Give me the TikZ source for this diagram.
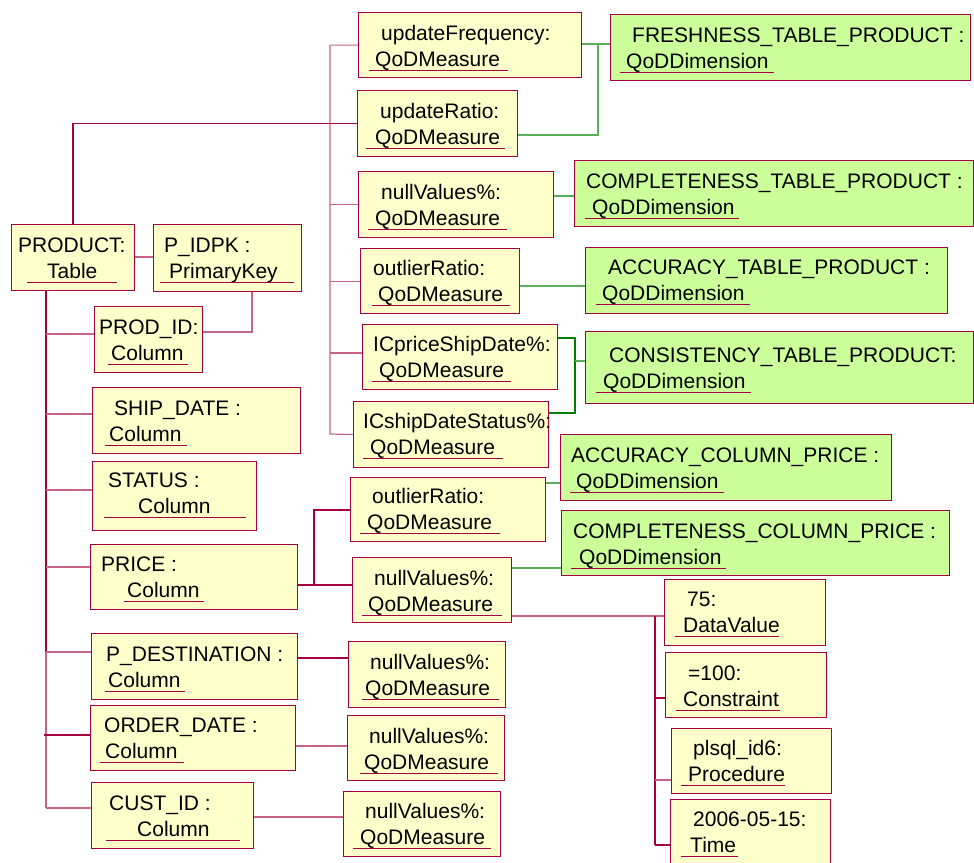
\documentclass[tikz,border=0pt]{standalone}
\usepackage{fontspec}
\setmainfont{Liberation Sans}
\definecolor{yfill}{RGB}{255,255,204}
\definecolor{gfill}{RGB}{204,255,153}
\definecolor{bord}{RGB}{165,0,65}
\definecolor{pinkln}{RGB}{200,100,140}
\definecolor{gline}{RGB}{90,175,90}
\definecolor{dgline}{RGB}{0,128,0}
\tikzset{
 ybox/.style={draw=bord, fill=yfill, line width=1.2pt, inner sep=0pt, anchor=north west},
 gbox/.style={draw=bord, fill=gfill, line width=1.2pt, inner sep=0pt, anchor=north west},
 txt/.style={anchor=base west, inner sep=0pt, font=\fontsize{21}{25}\selectfont},
 uline/.style={draw=bord, line width=1pt},
 dline/.style={draw=bord, line width=1.2pt},
 pline/.style={draw=pinkln, line width=1.2pt},
 gln/.style={draw=gline, line width=1.2pt},
 dgln/.style={draw=dgline, line width=1.2pt},
}
\newcommand\qbox[6]{\node[#2, minimum width={(#5-#3)*1pt}, minimum height={(#6-#4)*1pt}] (#1) at (#3,#4) {};}
\newcommand\qtext[8]{%
 \node[txt] (#1a) at (#3,#2) {#4};
 \node[txt] (#1b) at (#5,#2+26) {#6};
 \draw[uline] (#7,#2+30) -- (#8,#2+30);}
\begin{document}
\begin{tikzpicture}[x=1pt,y=-1pt]
\useasboundingbox (0,0) rectangle (974,862);
\clip (0,0) rectangle (974,862);
\fill[white] (0,0) rectangle (974,862);
% boxes
\qbox{product}{ybox}{11}{224}{134}{290}
\qbox{pidpk}{ybox}{153}{224}{301}{291}
\qbox{prodid}{ybox}{94}{306}{202}{372}
\qbox{shipdate}{ybox}{92}{387}{300}{453}
\qbox{status}{ybox}{92}{461}{256}{530}
\qbox{price}{ybox}{90}{544}{297}{609}
\qbox{pdest}{ybox}{91}{633}{297}{699}
\qbox{orderdate}{ybox}{90}{705}{295}{770}
\qbox{custid}{ybox}{91}{782}{253}{848}
\qbox{nvpdest}{ybox}{348}{641}{505}{707}
\qbox{nvorder}{ybox}{347}{715}{504}{780}
\qbox{nvcust}{ybox}{343}{791}{500}{856}
\qbox{updfreq}{ybox}{358}{12}{581}{77}
\qbox{updratio}{ybox}{357}{90}{517}{156}
\qbox{nvtable}{ybox}{358}{171}{553}{237}
\qbox{outtable}{ybox}{360}{248}{519}{313}
\qbox{icprice}{ybox}{362}{324}{557}{389}
\qbox{icship}{ybox}{353}{401}{548}{467}
\qbox{outprice}{ybox}{350}{477}{545}{541}
\qbox{nvprice}{ybox}{352}{557}{511}{622}
\qbox{dataval}{ybox}{664}{579}{825}{645}
\qbox{constr}{ybox}{665}{652}{826}{717}
\qbox{proc}{ybox}{671}{728}{831}{793}
\qbox{time}{ybox}{670}{799}{830}{868}
\qbox{fresh}{gbox}{610}{14}{970}{80}
\qbox{comptable}{gbox}{574}{160}{973}{226}
\qbox{acctable}{gbox}{585}{247}{947}{313}
\qbox{consist}{gbox}{585}{331}{973}{403}
\qbox{acccol}{gbox}{560}{434}{891}{500}
\qbox{compcol}{gbox}{561}{510}{949}{575}
% texts
\qtext{product}{252}{18}{PRODUCT:}{47}{Table}{27}{117}
\qtext{pidpk}{252}{164}{P\_IDPK :}{169}{PrimaryKey}{160}{294}
\qtext{prodid}{334}{99}{PROD\_ID:}{111}{Column}{108}{188}
\qtext{shipdate}{415}{114}{SHIP\_DATE :}{109}{Column}{105}{187}
\qtext{status}{487}{108}{STATUS :}{138}{Column}{104}{246}
\qtext{price}{571}{101}{PRICE :}{127}{Column}{124}{204}
\qtext{pdest}{661}{106}{P\_DESTINATION :}{108}{Column}{105}{185}
\qtext{orderdate}{732}{104}{ORDER\_DATE :}{105}{Column}{100}{184}
\qtext{custid}{810}{109}{CUST\_ID :}{137}{Column}{106}{240}
\qtext{nvpdest}{669}{370}{nullValues\%:}{365}{QoDMeasure}{362}{499}
\qtext{nvorder}{743}{369}{nullValues\%:}{364}{QoDMeasure}{360}{498}
\qtext{nvcust}{818}{365}{nullValues\%:}{360}{QoDMeasure}{353}{491}
\qtext{updfreq}{40}{381}{updateFrequency:}{375}{QoDMeasure}{369}{508}
\qtext{updratio}{118}{380}{updateRatio:}{375}{QoDMeasure}{366}{505}
\qtext{nvtable}{199}{381}{nullValues\%:}{375}{QoDMeasure}{368}{507}
\qtext{outtable}{275}{373}{outlierRatio:}{378}{QoDMeasure}{372}{510}
\qtext{icprice}{351}{373}{ICpriceShipDate\%:}{379}{QoDMeasure}{372}{511}
\qtext{icship}{428}{363}{ICshipDateStatus\%:}{370}{QoDMeasure}{363}{503}
\qtext{outprice}{503}{372}{outlierRatio:}{367}{QoDMeasure}{360}{500}
\qtext{nvprice}{585}{374}{nullValues\%:}{368}{QoDMeasure}{362}{502}
\qtext{dataval}{606}{687}{75:}{683}{DataValue}{675}{779}
\qtext{constr}{680}{688}{=100:}{683}{Constraint}{676}{780}
\qtext{proc}{755}{693}{plsql\_id6:}{688}{Procedure}{681}{785}
\qtext{time}{826}{693}{2006-05-15:}{690}{Time}{681}{738}
\qtext{fresh}{42}{632}{FRESHNESS\_TABLE\_PRODUCT :}{626}{QoDDimension}{620}{774}
\qtext{comptable}{188}{586}{COMPLETENESS\_TABLE\_PRODUCT :}{592}{QoDDimension}{585}{739}
\qtext{acctable}{274}{608}{ACCURACY\_TABLE\_PRODUCT :}{602}{QoDDimension}{596}{750}
\qtext{consist}{362}{609}{CONSISTENCY\_TABLE\_PRODUCT:}{603}{QoDDimension}{596}{751}
\qtext{acccol}{462}{571}{ACCURACY\_COLUMN\_PRICE :}{576}{QoDDimension}{570}{724}
\qtext{compcol}{538}{573}{COMPLETENESS\_COLUMN\_PRICE :}{579}{QoDDimension}{571}{726}
% maroon connectors
\draw[pline] (product.east |- 0,257) -- (pidpk.west |- 0,257);
\draw[dline] (product.north -| 73,0) |- (updratio.west);
\draw[pline] (updfreq.west) -| (330,434) -- (icship.west);
\draw[pline] (nvtable.west -| 330,0) -- (nvtable.west);
\draw[pline] (outtable.west -| 330,0) -- (outtable.west);
\draw[pline] (330,353) -- (icprice.west |- 0,353);
\draw[pline] (prodid.east |- 0,332) -| (pidpk.south -| 252,0);
\draw[dline, line width=1.8pt] (product.south -| 46,0) -- (46,652);
\draw[pline] (46,652) -- (46,808);
\draw[pline] (46,334) -- (prodid.west |- 0,334);
\draw[pline] (46,414) -- (shipdate.west |- 0,414);
\draw[pline] (46,490) -- (status.west |- 0,490);
\draw[pline] (46,567) -- (price.west |- 0,567);
\draw[pline] (46,652) -- (pdest.west |- 0,652);
\draw[dline] (44,735) -- (orderdate.west |- 0,735);
\draw[pline] (46,808) -- (custid.west |- 0,808);
\draw[dline] (price.east |- 0,585) -- (nvprice.west |- 0,585);
\draw[dline] (314,585) |- (outprice.west |- 0,510);
\draw[pline] (nvprice.east |- 0,616) -- (dataval.west |- 0,616);
\draw[dline] (655,616) -- (655,845);
\draw[dline] (655,698) -- (constr.west |- 0,698);
\draw[pline] (655,780) -- (proc.west |- 0,780);
\draw[dline] (655,845) -- (time.west |- 0,845);
\draw[dline] (pdest.east |- 0,658) -- (nvpdest.west |- 0,658);
\draw[pline] (orderdate.east |- 0,746) -- (nvorder.west |- 0,746);
\draw[pline] (custid.east |- 0,817) -- (nvcust.west |- 0,817);
% green connectors
\draw[gln] (updfreq.east |- 0,44) -- (fresh.west |- 0,44);
\draw[gln] (598,44) |- (updratio.east |- 0,135);
\draw[gln] (nvtable.east |- 0,196) -- (comptable.west |- 0,196);
\draw[gln] (outtable.east |- 0,286) -- (acctable.west |- 0,286);
\draw[dgln] (icprice.east |- 0,338) -| (575,413) -- (icship.east |- 0,413);
\draw[gln] (575,361) -- (consist.west |- 0,361);
\draw[gln] (outprice.east |- 0,483) -- (acccol.west |- 0,483);
\draw[gln] (nvprice.east |- 0,568) -- (compcol.west |- 0,568);
\end{tikzpicture}
\end{document}
